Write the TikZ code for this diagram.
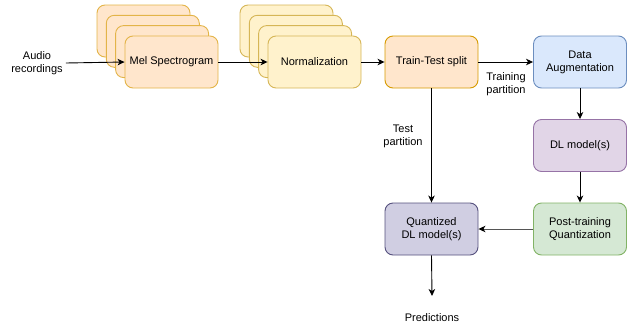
\documentclass[tikz,border=0pt]{standalone}
\usepackage{fontspec}
\setmainfont{Liberation Sans}
\usetikzlibrary{arrows.meta}
\definecolor{melF}{HTML}{FFE6CC}\definecolor{melD}{HTML}{E3B448}
\definecolor{normF}{HTML}{FFF2CC}\definecolor{normD}{HTML}{D6B656}
\definecolor{ttF}{HTML}{FFE6CC}\definecolor{ttD}{HTML}{D79B00}
\definecolor{daF}{HTML}{DAE8FC}\definecolor{daD}{HTML}{6C8EBF}
\definecolor{dlF}{HTML}{E1D5E7}\definecolor{dlD}{HTML}{9673A6}
\definecolor{ptF}{HTML}{D5E8D4}\definecolor{ptD}{HTML}{82B366}
\definecolor{qF}{HTML}{D0CEE2}\definecolor{qD}{HTML}{56517E}
\definecolor{grayline}{HTML}{555555}
\begin{document}
\begin{tikzpicture}[x=1pt,y=-1pt,
  font=\fontsize{11}{13}\selectfont,
  card/.style={rounded corners=8pt, line width=0.9pt, minimum width=93pt, minimum height=52pt, inner sep=0pt, align=center},
  arr/.style={-{Stealth[length=7pt,width=6.5pt,inset=2pt]}, line width=0.9pt},
  arrg/.style={-{Stealth[length=7pt,width=6.5pt,inset=2pt,color=black]}, line width=0.9pt, draw=grayline},
  lbl/.style={align=center, inner sep=0pt}]
\useasboundingbox (0,0) rectangle (629,327);
% Mel stack
\foreach \i/\dx/\dy in {1/0/0,2/9.3/10.3,3/18.6/20.6}{
  \node[card, draw=melD, fill=melF] (mel\i) at (143.5+\dx,31+\dy) {};
}
\node[card, draw=melD, fill=melF] (mel) at (171.5,62) {Mel Spectrogram};
% Normalization stack
\foreach \i/\dx/\dy in {1/0/0,2/9.3/10.3,3/18.6/20.6}{
  \node[card, draw=normD, fill=normF] (norm\i) at (286.5+\dx,31+\dy) {};
}
\node[card, draw=normD, fill=normF] (norm) at (314.5,62) {Normalization};
\node[card, draw=ttD, fill=ttF] (tt) at (431.5,62) {Train-Test split};
\node[card, draw=daD, fill=daF] (da) at (580,62) {Data\\Augmentation};
\node[card, draw=dlD, fill=dlF] (dl) at (580,145.5) {DL model(s)};
\node[card, draw=ptD, fill=ptF] (pt) at (580,229) {Post-training\\Quantization};
\node[card, draw=qD, fill=qF] (q) at (431.5,229) {Quantized\\DL model(s)};
\node[lbl] (audio) at (37,63) {Audio\\recordings};
\node[lbl] (pred) at (432,318) {Predictions};
\node[lbl] (trl) at (506,84) {Training\\partition};
\node[lbl] (tel) at (403,136) {Test\\partition};
\coordinate (pend) at (432,296);
\draw[arr] (audio.east)+(3,0) -- (mel.west);
\draw[arr] (mel.east) -- (norm.west);
\draw[arr] (norm.east) -- (tt.west);
\draw[arr] (tt.east) -- (da.west);
\draw[arr] (da.south) -- (dl.north);
\draw[arr] (dl.south) -- (pt.north);
\draw[arrg] (pt.west) -- (q.east);
\draw[arr] (tt.south) -- (q.north);
\draw[arr] (q.south) -- (pend);
\end{tikzpicture}
\end{document}
